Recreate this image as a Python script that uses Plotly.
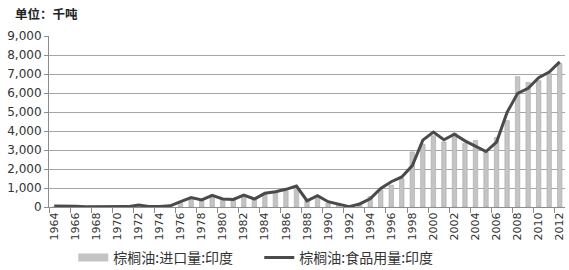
import plotly.graph_objects as go

years = list(range(1964, 2013))
imports = [0, 0, 0, 0, 0, 0, 0, 0, 0, 0, 0, 0,
           200, 400, 330, 500, 400, 360, 500, 470, 650, 770, 850, 1050,
           350, 550, 200, 100, 20, 100, 550, 900, 1150, 1500, 2900, 3300,
           3750, 3420, 3890, 3350, 3500, 2900, 3660, 4550, 6860, 6560, 6650, 7030, 7550]
food_use = [50, 50, 40, 10, 5, 5, 10, 20, 100, 30, 30, 60,
            280, 500, 370, 610, 420, 400, 630, 420, 720, 800, 930, 1100,
            330, 600, 280, 160, 20, 160, 430, 980, 1330, 1580, 2180, 3520,
            3940, 3540, 3830, 3480, 3180, 2920, 3420, 4980, 5980, 6250, 6800, 7100, 7640]
y_ticks = [0, 1000, 2000, 3000, 4000, 5000, 6000, 7000, 8000, 9000]
name_imp = "棕榈油:进口量:印度"
name_food = "棕榈油:食品用量:印度"
unit_title = "单位：千吨"

cjk = "Noto Sans CJK SC"
num_font = "DejaVu Sans"
bar_color = "#c4c4c4"

fig = go.Figure()
fig.add_trace(go.Bar(x=years, y=imports, name=name_imp, showlegend=False,
                     marker=dict(color=bar_color, line=dict(color="#a8a8a8", width=0.6)),
                     width=0.42))
# legend entry for the bars drawn as a wide flat swatch (as in the reference)
fig.add_trace(go.Scatter(x=[None], y=[None], name=name_imp, mode="lines",
                         line=dict(color=bar_color, width=8)))
fig.add_trace(go.Scatter(x=years, y=food_use, name=name_food, mode="lines",
                         line=dict(color="#4a4a4a", width=3)))

fig.update_layout(
    width=569, height=270,
    margin=dict(l=49, r=4, t=36, b=63, autoexpand=False),
    paper_bgcolor="white", plot_bgcolor="white",
    showlegend=True,
    legend=dict(orientation="h", x=0.047, xanchor="left", y=-0.298, yanchor="middle",
                font=dict(family=cjk, size=14, color="#333"),
                itemwidth=30, entrywidth=141, entrywidthmode="pixels",
                tracegroupgap=0, bgcolor="rgba(0,0,0,0)"),
    annotations=[dict(text="<b>" + unit_title + "</b>", xref="paper", yref="paper",
                      x=-0.069, y=1.129, xanchor="left", yanchor="middle", showarrow=False,
                      font=dict(family=cjk, size=12.5, color="#222"))],
)
fig.update_xaxes(
    range=[1963.5, 2012.5], tickmode="array", automargin=False,
    tickvals=years[::2], ticktext=[str(y) for y in years[::2]],
    tickangle=-90, ticks="", showgrid=False, zeroline=False,
    showline=True, linecolor="#8c8c8c", linewidth=1,
    tickfont=dict(family=num_font, size=11, color="#333"),
    minor=dict(tickmode="linear", tick0=1965.5, dtick=2, ticks="outside", ticklen=5,
               tickcolor="#8c8c8c", showgrid=False),
)
fig.update_yaxes(
    range=[0, 9000], tickmode="array", tickvals=y_ticks, automargin=False,
    ticktext=[f"{v:,}" for v in y_ticks],
    showgrid=True, gridcolor="#a6a6a6", gridwidth=1, zeroline=False,
    showline=True, linecolor="#8c8c8c", linewidth=1,
    ticks="outside", ticklen=4, tickcolor="#8c8c8c",
    tickfont=dict(family=num_font, size=12, color="#333"),
)

fig.write_html("out.html")
